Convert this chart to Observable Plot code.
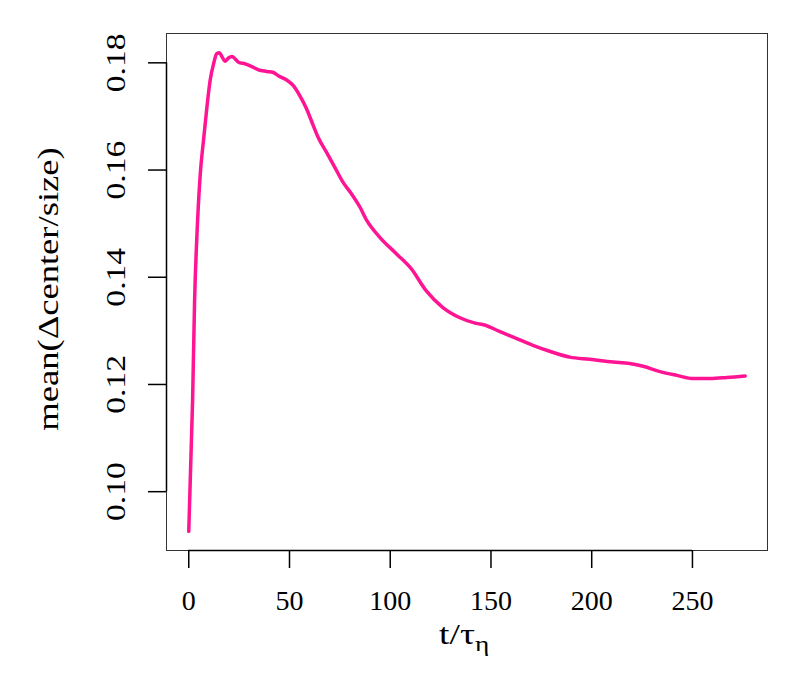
<!DOCTYPE html>
<html>
<head>
<meta charset="utf-8">
<script src="https://cdn.jsdelivr.net/npm/d3@7"></script>
<script src="https://cdn.jsdelivr.net/npm/@observablehq/plot@0.6"></script>
<style>
  html, body { margin: 0; padding: 0; background: #fff; }
  #chart svg { display: block; }
</style>
</head>
<body>
<div id="chart"></div>
<script>
const tValues = [0, 1.9, 2.9, 4.1, 5.7, 7.3, 9.0, 10.6, 12.3, 13.9, 15.2, 16.4, 18.1, 19.7, 21.4, 23.1, 24.7, 28.0, 31.3, 34.6, 38.7, 42.0, 44.4, 48.6, 51.8, 55.1, 58.5, 61.8, 64.2, 68.4, 72.5, 76.6, 80.7, 84.8, 88.5, 94.7, 103, 110.4, 117.8, 126, 134.3, 142.6, 146.7, 154.2, 162.5, 170.8, 179.1, 189.1, 199, 210.6, 218.9, 225.5, 233.9, 242.2, 250.5, 258.8, 267.1, 276.2];
const meanValues = [0.0926, 0.117, 0.1357, 0.1482, 0.1592, 0.1655, 0.1717, 0.1767, 0.1798, 0.1817, 0.1819, 0.1812, 0.1803, 0.1809, 0.1812, 0.1807, 0.1801, 0.1798, 0.1793, 0.1787, 0.1784, 0.1782, 0.1776, 0.1768, 0.1758, 0.1739, 0.1714, 0.1683, 0.1661, 0.1633, 0.1605, 0.1577, 0.1556, 0.1532, 0.1505, 0.1475, 0.1444, 0.1416, 0.1375, 0.1344, 0.1325, 0.1314, 0.1311, 0.1299, 0.1286, 0.1273, 0.1262, 0.1251, 0.1247, 0.1242, 0.1239, 0.1234, 0.1224, 0.1217, 0.1211, 0.1211, 0.1213, 0.1216];
const xTicks = [0, 50, 100, 150, 200, 250];
const yTicks = [0.10, 0.12, 0.14, 0.16, 0.18];
const yTitle = "mean(Δcenter/size)";
const xTitleMain = "t/τ";
const xTitleSub = "η";

const data = tValues.map((t, i) => ({t, v: meanValues[i]}));

// R-style 4% padding of the data range
const xMin = d3.min(tValues), xMax = d3.max(tValues);
const yMin = d3.min(meanValues), yMax = d3.max(meanValues);
const xPad = (xMax - xMin) * 0.04, yPad = (yMax - yMin) * 0.04;
const xDomain = [xMin - xPad, xMax + xPad];
const yDomain = [yMin - yPad, yMax + yPad];

const font = "'Liberation Serif', 'DejaVu Serif', serif";
const fs = 28;

const chart = Plot.plot({
  width: 800,
  height: 700,
  marginLeft: 166,
  marginRight: 33,
  marginTop: 33,
  marginBottom: 150,
  style: {fontFamily: font, fontSize: fs + "px", background: "#fff", color: "#000"},
  x: {domain: xDomain},
  y: {domain: yDomain},
  marks: [
    Plot.frame({stroke: "#333", strokeWidth: 1}),
    Plot.axisX({ticks: xTicks, tickSize: 18, tickPadding: 22, tickFormat: d => String(d), fontSize: fs, label: null, strokeWidth: 1.5, stroke: "#000"}),
    Plot.ruleY([yDomain[0]], {x1: xTicks[0], x2: xTicks[xTicks.length - 1], stroke: "#000", strokeWidth: 1.5}),
    Plot.axisY({ticks: yTicks, tickSize: 18, tickFormat: () => "", label: null, strokeWidth: 1.5, stroke: "#000"}),
    Plot.ruleX([xDomain[0]], {y1: yTicks[0], y2: yTicks[yTicks.length - 1], stroke: "#000", strokeWidth: 1.5}),
    Plot.text(yTicks, {y: d => d, frameAnchor: "left", text: d => d.toFixed(2), rotate: -90, dx: -42, textAnchor: "middle", lineAnchor: "bottom", fontSize: fs, fill: "#000"}),
    Plot.text([yTitle], {frameAnchor: "left", text: d => d, rotate: -90, dx: -109, dy: -3, textAnchor: "middle", lineAnchor: "bottom", fontSize: 30, fill: "#000"}),
    Plot.text([xTitleMain], {frameAnchor: "bottom", text: d => d, dx: 8, dy: 93, textAnchor: "end", lineAnchor: "bottom", fontSize: 30, fill: "#000"}),
    Plot.text([xTitleSub], {frameAnchor: "bottom", text: d => d, dx: 8, dy: 100, textAnchor: "start", lineAnchor: "bottom", fontSize: 21, fill: "#000"}),
    Plot.line(data, {x: "t", y: "v", stroke: "#FF1493", strokeWidth: 3.5, curve: "monotone-x"})
  ]
});
document.getElementById("chart").appendChild(chart);

// widen the text marks along their reading direction, like the reference glyphs
const stretchFactors = [1.2, 1.22, 1.25, 1.3];
chart.querySelectorAll('g[aria-label="text"]').forEach((g, i) => {
  const f = stretchFactors[i] || 1;
  g.querySelectorAll("text").forEach(t => {
    const w = t.getComputedTextLength();
    t.setAttribute("textLength", (w * f).toFixed(1));
    t.setAttribute("lengthAdjust", "spacingAndGlyphs");
  });
});
</script>
</body>
</html>
